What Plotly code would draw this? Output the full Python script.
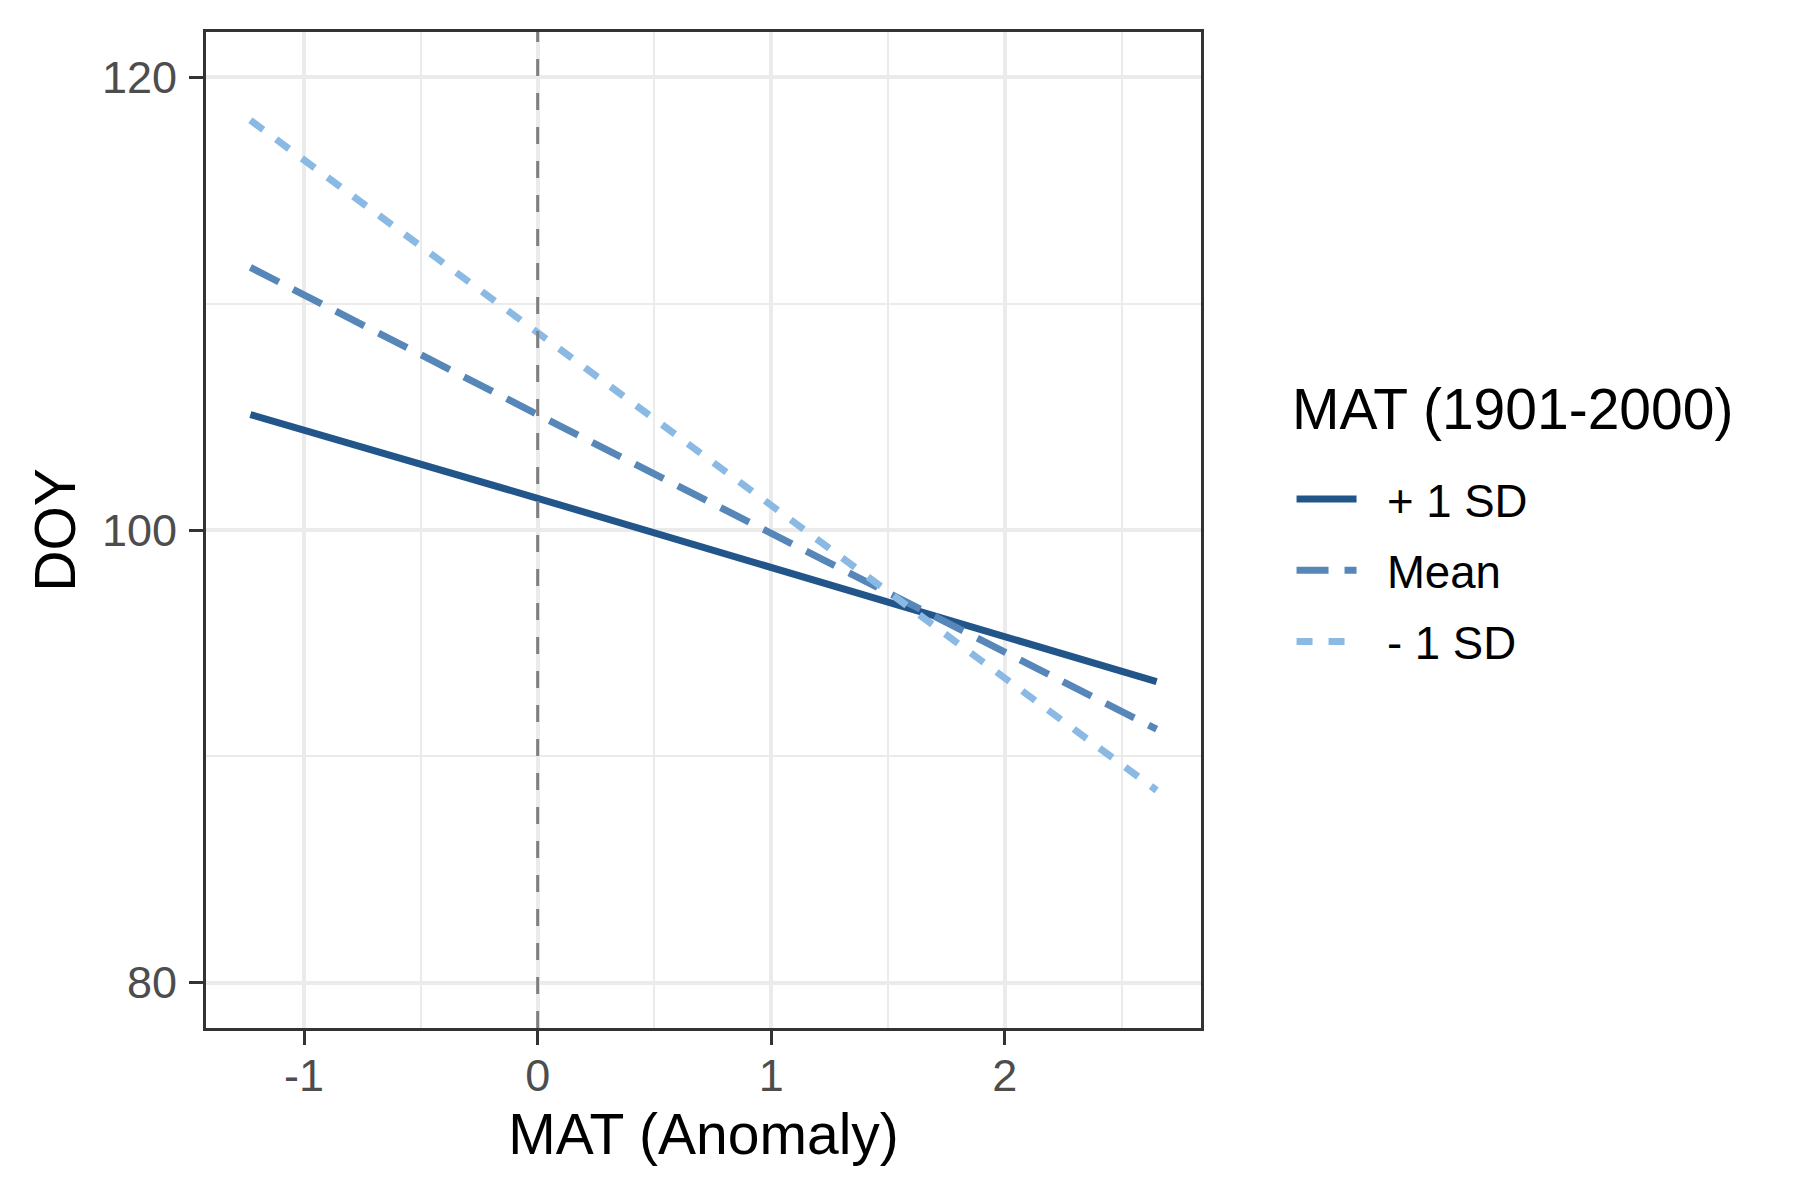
import plotly.graph_objects as go

# MAT anomaly positions where the fitted lines were read
mat_anomaly = [-1.23, 0.0, 2.65]

# predicted DOY for each level of long-term MAT
doy_plus_sd = [105.1, 101.4, 93.3]
doy_mean = [111.6, 105.1, 91.2]
doy_minus_sd = [118.1, 108.7, 88.5]

series_names = ["+ 1 SD", "Mean", "- 1 SD"]
series_colors = ["#22558A", "#5787B8", "#8AB9E4"]
series_dashes = ["solid", "32px,16px", "16px,16px"]

x_ticks = [-1, 0, 1, 2]
x_labels = ["-1", "0", "1", "2"]
y_ticks = [80, 100, 120]

legend_title = "MAT (1901-2000)"

FONT = "Liberation Sans, Arial, sans-serif"

fig = go.Figure()

for name, ys, color, dash in zip(series_names, [doy_plus_sd, doy_mean, doy_minus_sd],
                                 series_colors, series_dashes):
    fig.add_trace(go.Scatter(x=mat_anomaly, y=ys, mode="lines",
                             name="\u00a0\u00a0" + name, legendgroup=name,
                             line=dict(color=color, width=7, dash=dash)))

# reference line at zero anomaly
fig.add_vline(x=0, line=dict(color="#7F7F7F", width=3, dash="17px,17px"))

axis_common = dict(
    showline=True, mirror=True, linecolor="#333333", linewidth=3,
    ticks="outside", ticklen=14, tickwidth=3, tickcolor="#333333",
    tickfont=dict(family=FONT, size=45, color="#4D4D4D"),
    showgrid=True, gridcolor="#EBEBEB", gridwidth=3.5,
    zeroline=False,
)

fig.update_xaxes(
    range=[-1.42, 2.84], tickvals=x_ticks, ticktext=x_labels, ticklabelstandoff=-8,
    minor=dict(showgrid=True, gridcolor="#EBEBEB", gridwidth=1.8, dtick=0.5, tick0=0, ticks=""),
    title=dict(text="MAT (Anomaly)", font=dict(family=FONT, size=57, color="black"), standoff=15),
    **axis_common,
)
fig.update_yaxes(
    range=[78.0, 122.0], tickvals=y_ticks, ticklabelstandoff=3,
    minor=dict(showgrid=True, gridcolor="#EBEBEB", gridwidth=1.8, dtick=10, tick0=0, ticks=""),
    title=dict(text="DOY", font=dict(family=FONT, size=57, color="black"), standoff=8),
    **axis_common,
)

fig.add_annotation(
    text=legend_title, xref="paper", yref="paper", x=1.0895, y=0.621,
    xanchor="left", yanchor="middle", showarrow=False,
    font=dict(family=FONT, size=57, color="black"),
)

fig.update_layout(
    width=1800, height=1200,
    margin=dict(l=198, r=607, t=24, b=180, autoexpand=False),
    paper_bgcolor="white", plot_bgcolor="white",
    font=dict(family=FONT, color="black"),
    legend=dict(
        font=dict(family=FONT, size=45.6, color="black"),
        x=1.091, xanchor="left", y=0.5675, yanchor="top",
        itemwidth=60, tracegroupgap=9, traceorder="grouped",
        bgcolor="rgba(0,0,0,0)",
    ),
)

fig.write_html("out.html")
